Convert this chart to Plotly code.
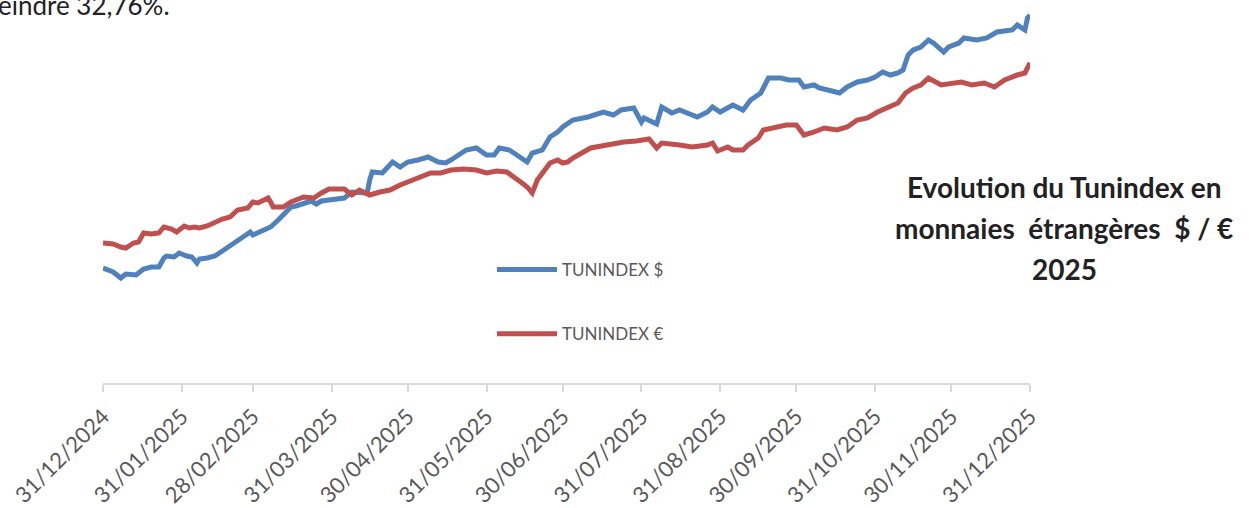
import pandas as pd
import plotly.graph_objects as go

# ---- data (y in arbitrary index units, day offsets from 31/12/2024) ----
usd_days = [0, 4, 7, 9, 13, 16, 19, 22, 24, 25, 28, 30, 33, 35, 37, 38, 41, 44, 47, 51,
            53, 55, 58, 59, 61, 64, 66, 69, 72, 74, 76, 79, 82, 84, 86, 89, 95, 98, 104, 105,
            106, 110, 114, 117, 120, 124, 128, 132, 135, 137, 140, 143, 147, 151, 154, 156, 160, 163, 167, 169,
            173, 176, 179, 181, 185, 191, 197, 201, 204, 209, 212, 213, 218, 220, 224, 227, 230, 234, 238, 240,
            243, 246, 248, 252, 255, 259, 262, 267, 270, 274, 276, 280, 282, 287, 290, 293, 297, 301, 304, 307,
            310, 313, 315, 317, 319, 322, 325, 327, 331, 333, 337, 339, 344, 348, 352, 358, 360, 363, 364, 365]
usd_vals = [115, 111, 105, 109, 108, 114, 116, 116, 125, 127, 126, 130, 127, 126, 120, 124, 125, 127, 132, 139,
            143, 145, 151, 148, 150, 153, 156, 163, 170, 176, 177, 180, 182, 179, 182, 183, 185, 191, 190, 203,
            211, 210, 221, 216, 221, 223, 226, 221, 220, 223, 228, 233, 235, 228, 228, 235, 233, 228, 221, 230,
            233, 246, 251, 256, 263, 266, 271, 268, 273, 275, 261, 265, 259, 276, 270, 273, 270, 266, 271, 276,
            271, 275, 278, 273, 283, 290, 305, 305, 303, 303, 296, 298, 295, 292, 290, 296, 301, 303, 306, 311,
            308, 310, 313, 328, 333, 336, 343, 340, 331, 336, 340, 345, 343, 345, 351, 353, 358, 353, 365, 368]

eur_days = [0, 4, 7, 9, 12, 14, 16, 19, 22, 24, 27, 29, 32, 34, 36, 38, 41, 44, 47, 50,
            53, 57, 59, 61, 65, 66, 67, 71, 74, 79, 83, 86, 89, 95, 98, 101, 105, 109, 113, 117,
            121, 125, 129, 133, 137, 142, 147, 151, 155, 159, 162, 165, 167, 169, 171, 173, 176, 179, 181, 183,
            185, 192, 198, 205, 210, 215, 218, 220, 227, 232, 238, 240, 242, 246, 248, 252, 254, 258, 260, 264,
            269, 273, 276, 280, 284, 289, 293, 297, 301, 305, 309, 313, 316, 319, 322, 325, 330, 334, 338, 342,
            347, 351, 355, 360, 363, 365]
eur_vals = [140, 139, 136, 135, 140, 141, 150, 149, 150, 156, 154, 151, 157, 155, 156, 155, 157, 161, 164, 166,
            173, 175, 181, 180, 185, 181, 176, 176, 181, 186, 185, 190, 194, 194, 188, 193, 188, 191, 193, 198,
            202, 205, 210, 210, 213, 214, 213, 210, 212, 211, 206, 200, 196, 190, 203, 210, 220, 223, 220, 221,
            225, 235, 238, 241, 242, 244, 235, 240, 238, 236, 238, 240, 232, 236, 233, 233, 238, 245, 253, 255,
            258, 258, 248, 251, 255, 253, 256, 263, 265, 271, 276, 280, 290, 295, 298, 305, 298, 300, 301, 298,
            300, 296, 303, 308, 310, 320]

tick_dates = ["2024-12-31", "2025-01-31", "2025-02-28", "2025-03-31", "2025-04-30", "2025-05-31",
              "2025-06-30", "2025-07-31", "2025-08-31", "2025-09-30", "2025-10-31", "2025-11-30", "2025-12-31"]
tick_labels = ["31/12/2024", "31/01/2025", "28/02/2025", "31/03/2025", "30/04/2025", "31/05/2025",
               "30/06/2025", "31/07/2025", "31/08/2025", "30/09/2025", "31/10/2025", "30/11/2025", "31/12/2025"]

series_names = ["TUNINDEX $", "TUNINDEX €"]
series_colors = ["#4F81BD", "#C0504D"]

title_lines = ["Evolution du Tunindex en", "monnaies  étrangères  $ / €", "2025"]

base = pd.Timestamp("2024-12-31")
usd_x = base + pd.to_timedelta(usd_days, unit="D")
eur_x = base + pd.to_timedelta(eur_days, unit="D")

fig = go.Figure()
fig.add_trace(go.Scatter(x=usd_x, y=usd_vals, mode="lines", name=series_names[0],
                         legendgroup="a", line=dict(color=series_colors[0], width=5)))
fig.add_trace(go.Scatter(x=eur_x, y=eur_vals, mode="lines", name=series_names[1],
                         legendgroup="b", line=dict(color=series_colors[1], width=5)))

W, H = 1259, 508
L, R, T, B = 103, 229, 10, 125
PW, PH = W - L - R, H - T - B

fig.update_layout(
    width=W, height=H,
    margin=dict(l=L, r=R, t=T, b=B, pad=0, autoexpand=False),
    paper_bgcolor="white", plot_bgcolor="white",
    font=dict(family="Lato, Open Sans, sans-serif", color="#595959"),
    showlegend=True,
    legend=dict(x=(492 - L) / PW, xanchor="left", y=(383 - 252) / PH, yanchor="top",
                bgcolor="rgba(0,0,0,0)", font=dict(size=17, color="#595959"),
                tracegroupgap=39, traceorder="grouped", itemwidth=60),
    xaxis=dict(type="date", range=[tick_dates[0], tick_dates[-1]], automargin=False,
               tickmode="array", tickvals=tick_dates, ticktext=tick_labels,
               tickangle=-45, tickfont=dict(size=22, color="#595959"),
               ticklabelstandoff=3,
               showgrid=False, zeroline=False, showline=True, linecolor="#D9D9D9", linewidth=2,
               ticks="outside", ticklen=7, tickwidth=2, tickcolor="#D9D9D9"),
    yaxis=dict(range=[0, 373], showgrid=False, zeroline=False, showline=False,
               showticklabels=False, ticks="", automargin=False),
)

title_y_px = [187, 228, 269]
for txt, ypx in zip(title_lines, title_y_px):
    fig.add_annotation(
        xref="paper", yref="paper", x=(1064 - L) / PW, y=(383 - ypx) / PH,
        xanchor="center", yanchor="middle", showarrow=False, align="center",
        text="<b>" + txt + "</b>",
        font=dict(family="Lato, sans-serif", size=28, color="#222222"),
    )

fig.add_annotation(
    xref="paper", yref="paper", x=(-4 - L) / PW, y=(383 - 5) / PH,
    xanchor="left", yanchor="middle", showarrow=False, align="left",
    text="eindre 32,76%.",
    font=dict(family="Lato, sans-serif", size=26, color="#222222"),
)

fig.write_html("out.html", config={"displayModeBar": False},
               post_script="document.body.style.margin='0px';")
